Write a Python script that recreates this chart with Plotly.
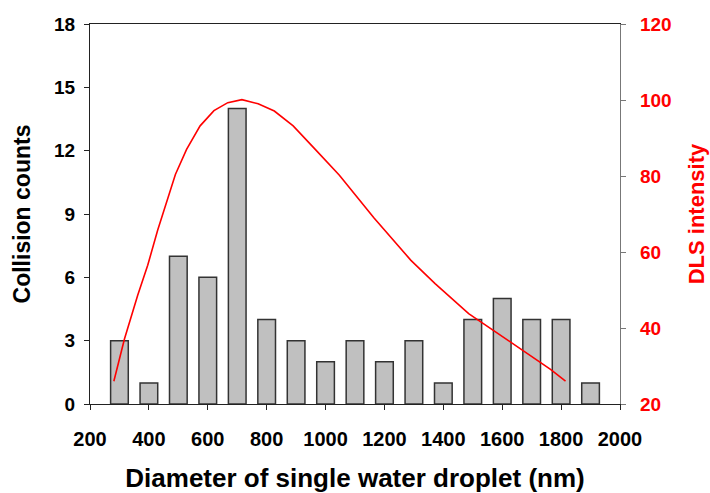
import plotly.graph_objects as go

# Histogram of collision counts
diameters_nm = [300, 400, 500, 600, 700, 800, 900, 1000, 1100, 1200, 1300, 1400, 1500, 1600, 1700, 1800, 1900]
collision_counts = [3, 1, 7, 6, 14, 4, 3, 2, 3, 2, 3, 1, 4, 5, 4, 4, 1]

# DLS intensity curve
dls_diameter_nm = [281, 317, 362, 396, 430, 464, 490, 528, 574, 621, 668, 716, 771, 826, 890, 965,
                   1047, 1164, 1290, 1372, 1486, 1621, 1764, 1815]
dls_intensity = [26.0, 37.1, 48.6, 56.5, 65.8, 74.2, 80.4, 87.0, 93.2, 97.2, 99.3, 100.1, 99.0, 97.1,
                 93.2, 87.0, 80.2, 69.0, 57.8, 51.7, 43.8, 36.7, 29.1, 26.0]

x_ticks = [200, 400, 600, 800, 1000, 1200, 1400, 1600, 1800, 2000]
y_ticks = [0, 3, 6, 9, 12, 15, 18]
y2_ticks = [20, 40, 60, 80, 100, 120]

FONT = "Liberation Sans"

fig = go.Figure()
fig.add_trace(go.Bar(
    x=diameters_nm, y=collision_counts, width=60,
    marker=dict(color="#c0c0c0", line=dict(color="#333333", width=1.5)),
    yaxis="y", showlegend=False,
))
fig.add_trace(go.Scatter(
    x=dls_diameter_nm, y=dls_intensity, mode="lines",
    line=dict(color="#ff0000", width=1.6),
    yaxis="y2", showlegend=False,
))

fig.update_layout(
    width=710, height=493,
    margin=dict(l=90, r=90, t=24, b=89),
    paper_bgcolor="white", plot_bgcolor="white",
    font=dict(family=FONT, color="black"),
    xaxis=dict(
        range=[200, 2000], tickvals=x_ticks, ticks="outside", ticklen=5, tickwidth=1,
        tickcolor="#222", showline=True, linecolor="#222", linewidth=1.2, mirror=True,
        showgrid=False, zeroline=False, ticklabelstandoff=12, automargin=False,
        tickfont=dict(family=FONT, size=20, weight="bold", color="black"),
        title=dict(text="Diameter of single water droplet (nm)",
                   font=dict(family=FONT, size=26, weight="bold", color="black"), standoff=19),
    ),
    yaxis=dict(
        range=[0, 18], tickvals=y_ticks, ticks="outside", ticklen=5, tickwidth=1,
        tickcolor="#222", showline=True, linecolor="#222", linewidth=1.2,
        showgrid=False, zeroline=False, ticklabelstandoff=5, automargin=False,
        tickfont=dict(family=FONT, size=19, weight="bold", color="black"),
        title=dict(text="Collision counts",
                   font=dict(family=FONT, size=23, weight="bold", color="black"), standoff=16),
    ),
    yaxis2=dict(
        range=[20, 120], tickvals=y2_ticks, ticks="outside", ticklen=5, tickwidth=1,
        tickcolor="#777", showline=True, linecolor="#777", linewidth=1.2,
        overlaying="y", side="right", showgrid=False, zeroline=False, ticklabelstandoff=10,
        automargin=False,
        tickfont=dict(family=FONT, size=19, weight="bold", color="#ff0000"),
        title=dict(text="DLS intensity",
                   font=dict(family=FONT, size=22, weight="bold", color="#ff0000"), standoff=17),
    ),
)

fig.write_html("out.html")
